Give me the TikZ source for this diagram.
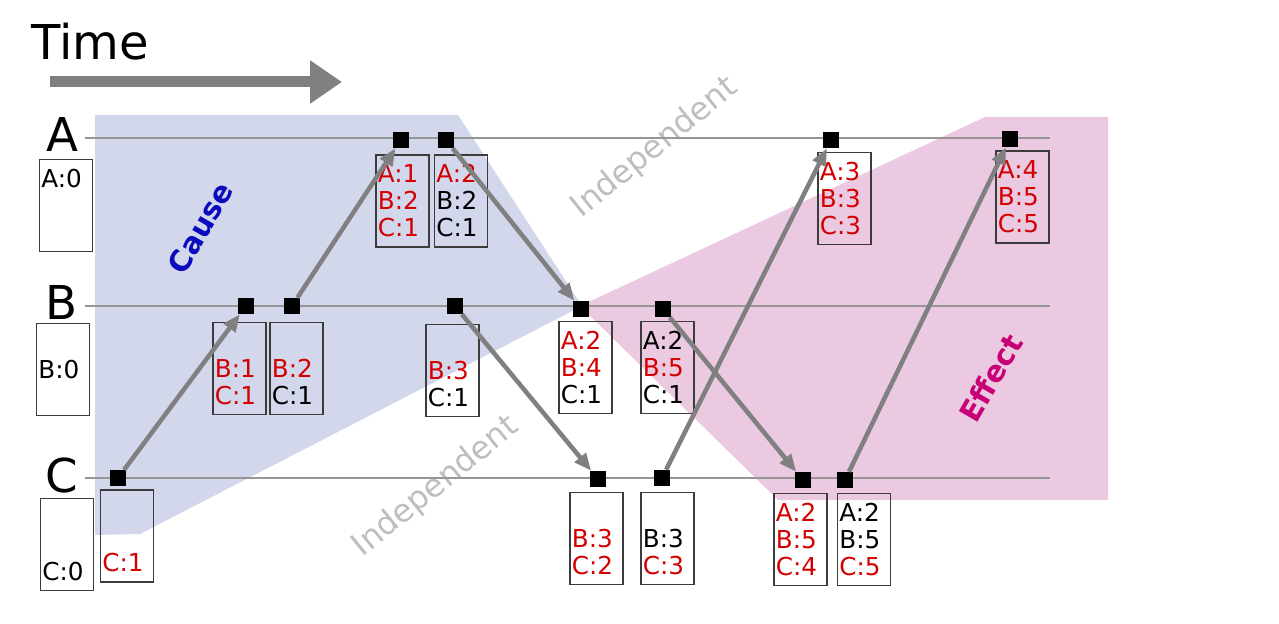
\documentclass[tikz,border=0pt]{standalone}
\usepackage{fontspec}
\setmainfont{DejaVu Sans}
\usetikzlibrary{arrows.meta}
\definecolor{causebg}{RGB}{211,215,236}
\definecolor{effectbg}{RGB}{235,201,225}
\definecolor{evred}{RGB}{212,0,0}
\definecolor{causefg}{RGB}{10,10,190}
\definecolor{effectfg}{RGB}{200,0,120}
\definecolor{indep}{RGB}{190,190,190}
\definecolor{tlgray}{RGB}{150,150,150}
\definecolor{arrgray}{RGB}{128,128,128}
\newcommand{\rd}[1]{\textcolor{evred}{#1}}
\newcommand{\ph}{\phantom{A:0}}
\begin{document}
\begin{tikzpicture}[x=0.75pt,y=-0.75pt,
  ev/.style={rectangle,fill=black,minimum size=12pt,inner sep=0pt},
  vbox/.style={rectangle,draw={rgb,255:red,60;green,60;blue,60},line width=0.9pt,
    minimum height=69pt,text width=37pt,inner xsep=1.4pt,inner ysep=0pt,align=left,
    font=\fontsize{18.5}{20.25}\selectfont},
  tline/.style={draw=tlgray,line width=1.1pt},
  msg/.style={draw=arrgray,line width=3.4pt,-{Triangle[length=13pt,width=10.5pt]}},
  procl/.style={font=\fontsize{35}{40}\selectfont,anchor=base},
  indeptext/.style={text=indep,font=\fontsize{24}{28}\selectfont,rotate=39}
]
\useasboundingbox (0,0) rectangle (1279,624);
% regions
\fill[causebg] (95,115) -- (458,115) -- (582,306) -- (140,534) -- (95,535) -- cycle;
\fill[effectbg] (580,306) -- (985,117) -- (1108,117) -- (1108,500) -- (778,500) -- cycle;
% watermark texts
\node[indeptext] (ind1) at (655,148) {Independent};
\node[indeptext] (ind2) at (436,487) {Independent};
\node[text=causefg,font=\bfseries\fontsize{22}{26}\selectfont,rotate=60] (cause) at (200,228) {Cause};
\node[text=effectfg,font=\bfseries\fontsize{22}{26}\selectfont,rotate=60] (effect) at (991,378) {Effect};
% time arrow
\node[font=\fontsize{36}{40}\selectfont,anchor=base west,inner sep=0pt] (time) at (31,60) {Time};
\coordinate (t0) at (50,82);
\coordinate (t1) at (342,82);
\draw[draw=arrgray,line width=8.25pt,-{Triangle[length=24pt,width=31pt]}] (t0) -- (t1);
% process labels
\node[procl] (la) at (62,152) {A};
\node[procl] (lb) at (62,320) {B};
\node[procl] (lc) at (62,492) {C};
% timelines
\coordinate (a0) at (85,138); \coordinate (a1) at (1050,138);
\coordinate (b0) at (85,306); \coordinate (b1e) at (1050,306);
\coordinate (c0) at (85,478); \coordinate (c1e) at (1050,478);
\draw[tline] (a0) -- (a1);
\draw[tline] (b0) -- (b1e);
\draw[tline] (c0) -- (c1e);
% vector clock boxes
\node[vbox] (vA0) at (66,205.5) {A:0\\\ph\\\ph};
\node[vbox] (vB0) at (63,369.5) {\ph\\B:0\\\ph};
\node[vbox] (vC0) at (67,544.5) {\ph\\\ph\\C:0};
\node[vbox] (vC1) at (127,536) {\ph\\\ph\\\rd{C:1}};
\node[vbox] (vB1) at (239.5,368.5) {\ph\\\rd{B:1}\\\rd{C:1}};
\node[vbox] (vB2) at (296.5,368.5) {\ph\\\rd{B:2}\\C:1};
\node[vbox] (vA1) at (402.5,201) {\rd{A:1}\\\rd{B:2}\\\rd{C:1}};
\node[vbox] (vA2) at (461,201) {\rd{A:2}\\B:2\\C:1};
\node[vbox] (vB3) at (452.5,370.5) {\ph\\\rd{B:3}\\C:1};
\node[vbox] (vB4) at (585.5,367.5) {\rd{A:2}\\\rd{B:4}\\C:1};
\node[vbox] (vB5) at (667.5,367.5) {A:2\\\rd{B:5}\\C:1};
\node[vbox] (vC2) at (596.5,538.5) {\ph\\\rd{B:3}\\\rd{C:2}};
\node[vbox] (vC3) at (667.5,538.5) {\ph\\B:3\\\rd{C:3}};
\node[vbox] (vC4) at (800.5,539.5) {\rd{A:2}\\\rd{B:5}\\\rd{C:4}};
\node[vbox] (vC5) at (864,539.5) {A:2\\B:5\\\rd{C:5}};
\node[vbox] (vA3) at (844.5,198.5) {\rd{A:3}\\\rd{B:3}\\\rd{C:3}};
\node[vbox] (vA4) at (1022.5,197) {\rd{A:4}\\\rd{B:5}\\\rd{C:5}};
% events
\node[ev] (eA1) at (401,140) {};
\node[ev] (eA2) at (446,140) {};
\node[ev] (eA3) at (831,140) {};
\node[ev] (eA4) at (1010,139) {};
\node[ev] (eB1) at (246,306) {};
\node[ev] (eB2) at (292,306) {};
\node[ev] (eB3) at (455,306) {};
\node[ev] (eB4) at (581,309) {};
\node[ev] (eB5) at (663,309) {};
\node[ev] (eC1) at (118,478) {};
\node[ev] (eC2) at (598,479) {};
\node[ev] (eC3) at (662,478) {};
\node[ev] (eC4) at (803,480) {};
\node[ev] (eC5) at (845,480) {};
% messages
\draw[msg] (eC1) -- (eB1);
\draw[msg] (eB2) -- (eA1);
\draw[msg] (eA2) -- (eB4);
\draw[msg] (eB3) -- (eC2);
\draw[msg] (eC3) -- (eA3);
\draw[msg] (eB5) -- (eC4);
\draw[msg] (eC5) -- (eA4);
\end{tikzpicture}
\end{document}
